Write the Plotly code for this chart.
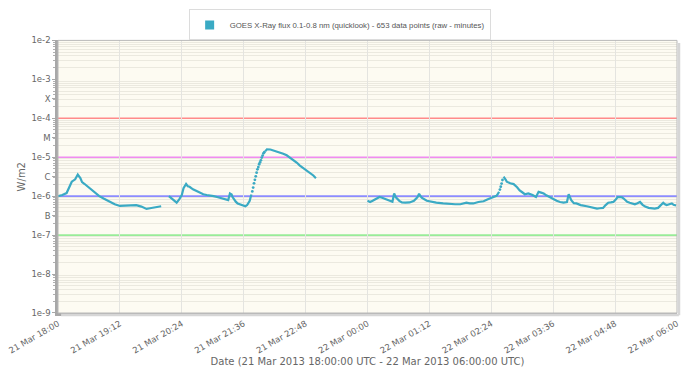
import plotly.graph_objects as go
import pandas as pd

start_time = "2013-03-21 18:00"

# GOES X-ray flux 0.1-0.8 nm, elapsed minutes after start_time and flux (W/m2); None = data gap
line_minutes = [
    0, 5, 10, 14, 16, 20, 23, 26, 28, 31, 34, 38, 43, 48, 53, 60, 66, 72, 78, 84, 91, 97, 103, 107, 111, 115, 120,
    None,
    129, 134, 138, 141, 144, 146, 149, 151, 153, 157, 161, 165, 169, 173, 177, 181, 185, 189, 192, 196, 198,
    200, 202, 203, 205, 207, 209, 212, 215, 218, 220, 221, 223, 224, 225,
    None,
    241, 242, 243, 247, 250, 254, 258, 262, 266, 270, 274, 278, 281, 285, 289, 293, 297, 300,
    None,
    360, 363, 366, 370, 374, 377, 382, 386, 389, 391, 393, 397, 400, 404, 409, 414, 418, 420, 423, 429, 434,
    440, 448, 456, 462, 468, 472, 475, 479, 483, 489, 495, 500, 506, 510, 512, 513,
    None,
    518, 519, 521, 522, 526, 530, 534, 537, 540, 543, 547, 550, 552, 556, 559, 562, 565, 568, 572, 576, 580,
    584, 588, 592, 594, 597, 600, 603, 608, 615, 621, 627, 630, 634, 637, 640, 643, 646, 649, 651, 654, 656,
    658, 662, 665, 668, 671, 674, 677, 680, 683, 687, 691, 694, 698, 701, 704, 706, 708, 711, 714, 716, 719,
]
line_flux = [
    1.0e-6, 1.07e-6, 1.2e-6, 1.9e-6, 2.35e-6, 2.7e-6, 3.6e-6, 2.9e-6, 2.3e-6, 2.05e-6, 1.8e-6, 1.48e-6, 1.2e-6,
    1.0e-6, 8.7e-7, 7.1e-7, 6.2e-7, 5.6e-7, 5.75e-7, 5.9e-7, 5.9e-7, 5.4e-7, 4.7e-7, 4.9e-7, 5.1e-7, 5.4e-7, 5.5e-7,
    None,
    1.0e-6, 7.9e-7, 6.8e-7, 8.3e-7, 1.07e-6, 1.6e-6, 2.05e-6, 1.8e-6, 1.74e-6, 1.5e-6, 1.35e-6, 1.2e-6, 1.12e-6,
    1.07e-6, 1.05e-6, 1.0e-6, 9.5e-7, 9.1e-7, 8.5e-7, 8.1e-7, 7.9e-7,
    1.17e-6, 1.1e-6, 9.5e-7, 8.1e-7, 7.1e-7, 6.5e-7, 6.2e-7, 5.75e-7, 5.5e-7, 5.9e-7, 6.5e-7, 7.6e-7, 9.3e-7, 1.1e-6,
    None,
    1.41e-5, 1.51e-5, 1.6e-5, 1.58e-5, 1.51e-5, 1.41e-5, 1.32e-5, 1.23e-5, 1.12e-5, 9.8e-6, 8.3e-6, 7.2e-6, 6.2e-6,
    5.4e-6, 4.7e-6, 4.0e-6, 3.4e-6, 2.9e-6,
    None,
    7.6e-7, 7.1e-7, 7.6e-7, 8.7e-7, 9.5e-7, 9.1e-7, 8.3e-7, 7.6e-7, 7.2e-7, 1.17e-6, 9.3e-7, 7.6e-7, 6.9e-7, 6.8e-7,
    6.9e-7, 7.6e-7, 9.3e-7, 1.15e-6, 9.1e-7, 7.6e-7, 7.1e-7,
    6.8e-7, 6.5e-7, 6.2e-7, 6.2e-7, 6.2e-7, 6.5e-7, 6.8e-7, 6.5e-7, 6.5e-7, 7.1e-7, 7.4e-7, 8.3e-7, 9.3e-7, 1.02e-6,
    1.17e-6, 1.3e-6,
    None,
    2.9e-6, 3.0e-6, 2.6e-6, 2.35e-6, 2.14e-6, 2.04e-6, 1.7e-6, 1.41e-6, 1.26e-6, 1.12e-6, 1.17e-6, 1.12e-6, 1.07e-6,
    9.5e-7, 1.29e-6, 1.23e-6, 1.17e-6, 1.05e-6, 9.3e-7, 8.3e-7, 7.6e-7,
    7.1e-7, 6.8e-7, 7.1e-7, 1.12e-6, 7.9e-7, 6.6e-7, 6.5e-7, 5.9e-7, 5.5e-7, 5.1e-7, 4.8e-7, 4.9e-7, 5.0e-7, 5.9e-7,
    6.8e-7, 6.9e-7, 7.1e-7, 8.3e-7, 9.5e-7, 9.5e-7, 9.3e-7,
    8.7e-7, 7.2e-7, 6.8e-7, 6.5e-7, 6.2e-7, 6.6e-7, 7.1e-7, 6.0e-7, 5.4e-7, 5.0e-7, 4.8e-7, 4.8e-7, 5.0e-7, 5.9e-7,
    6.8e-7, 6.2e-7, 5.9e-7, 6.2e-7, 6.5e-7, 6.0e-7, 5.75e-7,
]

# sparse one-minute samples during the fast rises (drawn as separate dots)
rise_minutes = [226, 227, 228, 229, 230, 231, 232, 233, 234, 235, 236, 237, 238, 239, 240,
                514, 515, 516, 517]
rise_flux = [1.32e-6, 1.66e-6, 2.14e-6, 2.63e-6, 3.24e-6, 4.0e-6, 4.9e-6, 5.6e-6, 6.6e-6, 7.4e-6, 8.3e-6,
             9.8e-6, 1.1e-5, 1.26e-5, 1.35e-5,
             1.48e-6, 1.75e-6, 2.1e-6, 2.6e-6]

x_tick_minutes = [0, 72, 144, 216, 288, 360, 432, 504, 576, 648, 720]
x_tick_labels = ["21 Mar 18:00", "21 Mar 19:12", "21 Mar 20:24", "21 Mar 21:36", "21 Mar 22:48",
                 "22 Mar 00:00", "22 Mar 01:12", "22 Mar 02:24", "22 Mar 03:36", "22 Mar 04:48",
                 "22 Mar 06:00"]

y_tick_vals = [1e-2, 1e-3, 3.162e-4, 1e-4, 3.162e-5, 1e-5, 3.162e-6, 1e-6, 3.162e-7, 1e-7, 1e-8, 1e-9]
y_tick_text = ["1e-2", "1e-3", "X", "1e-4", "M", "1e-5", "C", "1e-6", "B", "1e-7", "1e-8", "1e-9"]

class_levels = [1e-4, 1e-5, 1e-6, 1e-7]
class_colors = ["#ff8a8a", "#f08cf0", "#8c8cff", "#98ec98"]

legend_name = "GOES X-Ray flux 0.1-0.8 nm (quicklook) - 653 data points (raw - minutes)"

t0 = pd.Timestamp(start_time)


def to_time(m):
    return None if m is None else t0 + pd.Timedelta(minutes=m)


line_x = [to_time(m) for m in line_minutes]
rise_x = [to_time(m) for m in rise_minutes]
tick_x = [to_time(m) for m in x_tick_minutes]

color = "#3aaac4"
font_fam = "DejaVu Sans, Verdana, sans-serif"
legend_font = "Liberation Sans, Arial, sans-serif"

fig = go.Figure()
fig.add_trace(go.Scatter(x=line_x, y=line_flux, mode="lines", connectgaps=False,
                         line=dict(color=color, width=2.2), showlegend=False))
fig.add_trace(go.Scatter(x=rise_x, y=rise_flux, mode="markers",
                         marker=dict(color=color, size=2.8), showlegend=False))
fig.add_trace(go.Scatter(x=[None], y=[None], mode="markers", name=legend_name,
                         marker=dict(color=color, symbol="square", size=9)))

for lvl, col in zip(class_levels, class_colors):
    fig.add_shape(type="line", xref="paper", x0=0, x1=1, yref="y", y0=lvl, y1=lvl,
                  line=dict(color=col, width=1.6), layer="below")

# frame: light top/right border with a soft shadow
fig.add_shape(type="rect", xref="paper", yref="paper", x0=0, x1=1, y0=0, y1=1,
              line=dict(color="#b8b8b8", width=1), layer="above")
fig.add_shape(type="line", xref="paper", yref="paper", xsizemode="pixel", xanchor=1, x0=2, x1=2,
              y0=-0.008, y1=0.99, line=dict(color="#d6d6d6", width=2.5), layer="above")
fig.add_shape(type="line", xref="paper", yref="paper", ysizemode="pixel", yanchor=0, y0=-2, y1=-2,
              x0=0.005, x1=1.003, line=dict(color="#d6d6d6", width=2.5), layer="above")

minor_vals = [k * 10.0 ** e for e in range(-9, -2) for k in range(2, 10)]

fig.update_layout(
    width=684, height=375,
    margin=dict(l=50, r=15, t=32, b=70),
    paper_bgcolor="white",
    plot_bgcolor="#fdfbf2",
    font=dict(family=font_fam, size=9, color="#666666"),
    legend=dict(orientation="h", x=0.455, xanchor="center", yref="container", y=0.955, yanchor="middle",
                bgcolor="white", bordercolor="#dcdcdc", borderwidth=1,
                font=dict(family=legend_font, size=7.8, color="#555555"), itemwidth=30,
                tracegroupgap=0),
    xaxis=dict(
        type="date", range=[tick_x[0], tick_x[-1]], automargin=False,
        tickmode="array", tickvals=tick_x, ticktext=x_tick_labels, tickangle=-30,
        ticklabeloverflow="allow",
        showgrid=True, gridcolor="#e4e4e0", gridwidth=1,
        showline=True, linecolor="#a8a8a8", linewidth=2.5,
        ticks="", tickfont=dict(size=8.5, color="#666666"),
        title=dict(text="Date (21 Mar 2013 18:00:00 UTC - 22 Mar 2013 06:00:00 UTC)",
                   font=dict(size=10, color="#666666"), standoff=4),
        zeroline=False,
    ),
    yaxis=dict(
        type="log", range=[-9, -2], automargin=False,
        tickmode="array", tickvals=y_tick_vals, ticktext=y_tick_text,
        showgrid=False,
        showline=True, linecolor="#a8a8a8", linewidth=2.5,
        ticks="outside", ticklen=3, tickcolor="#a8a8a8",
        tickfont=dict(size=8.5, color="#666666"),
        minor=dict(tickmode="array", tickvals=minor_vals, showgrid=True,
                   gridcolor="#ebe9df", gridwidth=1, ticks="outside", ticklen=2, tickcolor="#b0b0b0"),
        title=dict(text="W/m2", font=dict(size=10, color="#666666"), standoff=4),
        zeroline=False,
    ),
)

fig.write_html("out.html")
